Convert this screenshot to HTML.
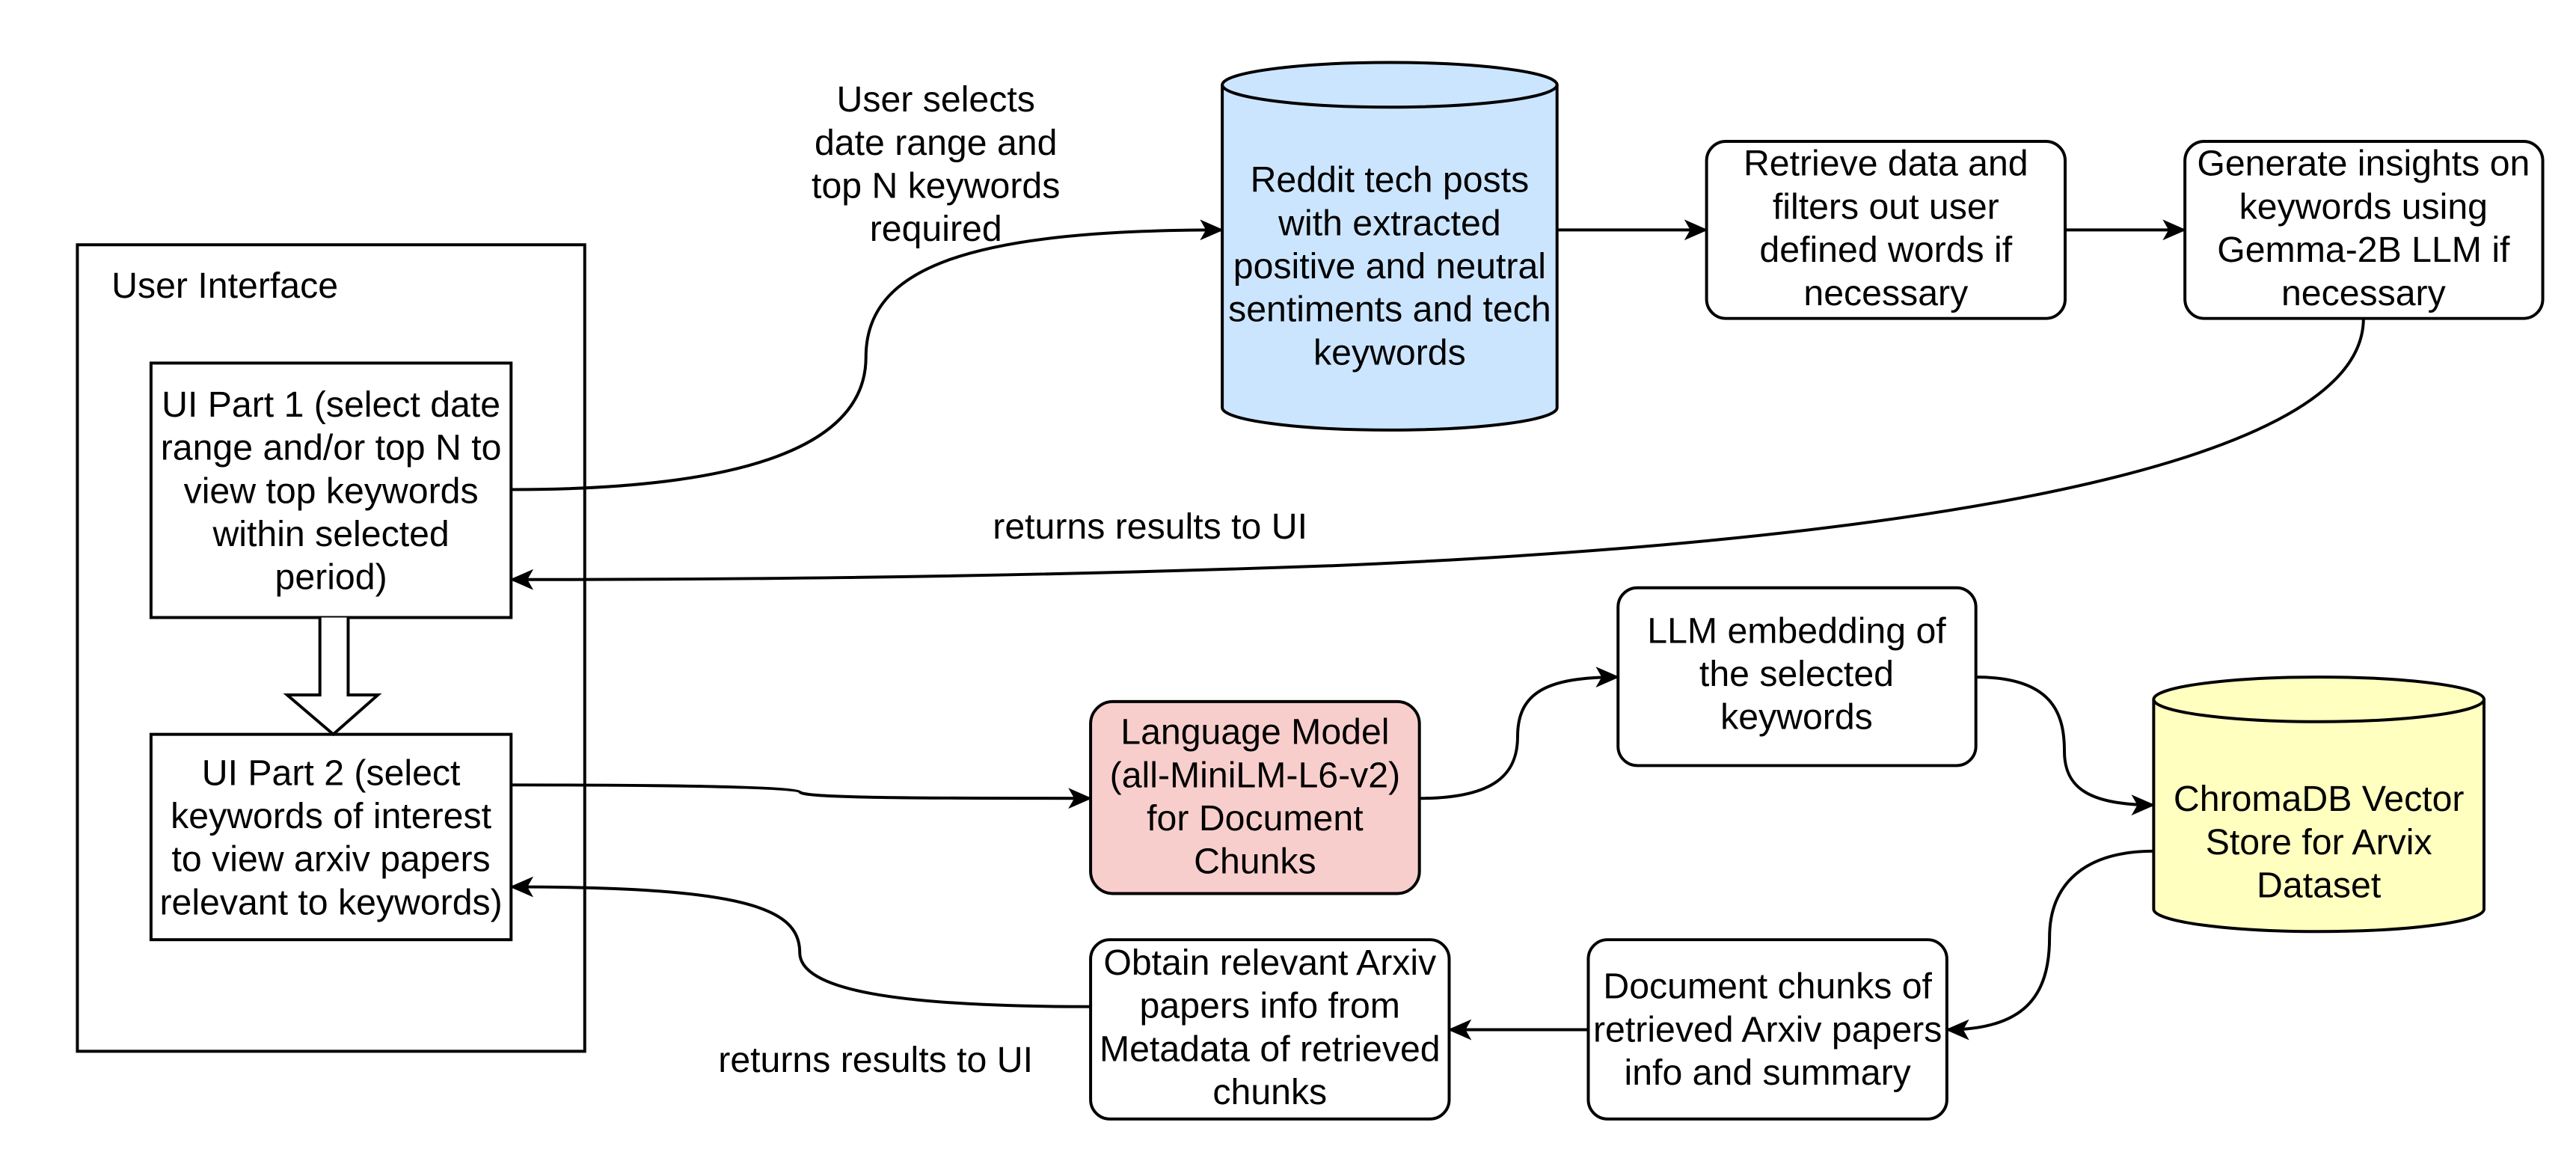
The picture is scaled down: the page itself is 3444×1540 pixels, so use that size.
<!DOCTYPE html>
<html><head><meta charset="utf-8"><style>
html,body{margin:0;padding:0;background:#fff;}
svg{display:block;}
text{font-family:"Liberation Sans",Helvetica,Arial,sans-serif;font-size:48.5px;fill:#000;text-anchor:middle;}
</style></head><body>
<svg width="3444" height="1540" viewBox="0 0 3444 1540" xmlns="http://www.w3.org/2000/svg">
<defs>
<marker id="a" markerWidth="40" markerHeight="40" refX="30" refY="16" orient="auto" markerUnits="userSpaceOnUse">
<path d="M0,2 L32,16 L0,30 L8,16 Z" fill="#000"/>
</marker>
</defs>
<g transform="scale(0.9946)">
<g fill="none" stroke="#000" stroke-width="4">
<rect x="104" y="329" width="682" height="1084" fill="#fff"/>
<rect x="203" y="488" width="484" height="342" fill="#fff"/>
<rect x="203" y="987" width="484" height="276" fill="#fff"/>
<path d="M430,830 L430,934 L386,934 L448,987 L508,934 L468,934 L468,830" fill="#fff"/>
<path d="M1643,114 L1643,548 A225,30 0 0 0 2093,548 L2093,114 A225,30 0 0 0 1643,114 Z" fill="#cce5ff"/>
<path d="M1643,114 A225,30 0 0 0 2093,114"/>
<rect x="2294" y="190" width="482" height="238" rx="26" fill="#fff"/>
<rect x="2937" y="190" width="481" height="238" rx="26" fill="#fff"/>
<rect x="1466" y="943" width="442" height="258" rx="30" fill="#f8cecc"/>
<rect x="2175" y="790" width="481" height="239" rx="26" fill="#fff"/>
<rect x="2135" y="1263" width="482" height="241" rx="26" fill="#fff"/>
<rect x="1466" y="1263" width="482" height="241" rx="26" fill="#fff"/>
<path d="M2895,940 L2895,1222 A222,30 0 0 0 3339,1222 L3339,940 A222,30 0 0 0 2895,940 Z" fill="#ffffc0"/>
<path d="M2895,940 A222,30 0 0 0 3339,940"/>
<path d="M687,658 C1000,658 1164,600 1164,480 C1164,360 1300,309 1643,309" marker-end="url(#a)"/>
<path d="M2093,309 L2294,309" marker-end="url(#a)"/>
<path d="M2776,309 L2937,309" marker-end="url(#a)"/>
<path d="M3177,428 C3177,640 2500,730 1800,760 C1300,778 900,779 687,779" marker-end="url(#a)"/>
<path d="M687,1055 C900,1055 1075,1058 1075,1064 C1075,1072 1200,1073 1466,1073" marker-end="url(#a)"/>
<path d="M1908,1073 C2010,1073 2040,1040 2040,990 C2040,930 2080,910 2175,910" marker-end="url(#a)"/>
<path d="M2656,910 C2760,910 2775,960 2775,1010 C2775,1060 2810,1082 2895,1082" marker-end="url(#a)"/>
<path d="M2895,1144 C2800,1144 2755,1190 2755,1260 C2755,1340 2720,1384 2617,1384" marker-end="url(#a)"/>
<path d="M2135,1384 L1948,1384" marker-end="url(#a)"/>
<path d="M1466,1353 C1200,1353 1075,1330 1075,1280 C1075,1220 1000,1192 687,1192" marker-end="url(#a)"/>
</g>
<text x="150" y="400" style="text-anchor:start">User Interface</text>
<text x="445" y="560">UI Part 1 (select date</text>
<text x="445" y="618">range and/or top N to</text>
<text x="445" y="676">view top keywords</text>
<text x="445" y="734">within selected</text>
<text x="445" y="792">period)</text>
<text x="445" y="1055">UI Part 2 (select</text>
<text x="445" y="1113">keywords of interest</text>
<text x="445" y="1171">to view arxiv papers</text>
<text x="445" y="1229">relevant to keywords)</text>
<text x="1258" y="150">User selects</text>
<text x="1258" y="208">date range and</text>
<text x="1258" y="266">top N keywords</text>
<text x="1258" y="324">required</text>
<text x="1868" y="258">Reddit tech posts</text>
<text x="1868" y="316">with extracted</text>
<text x="1868" y="374">positive and neutral</text>
<text x="1868" y="432">sentiments and tech</text>
<text x="1868" y="490">keywords</text>
<text x="2535" y="236">Retrieve data and</text>
<text x="2535" y="294">filters out user</text>
<text x="2535" y="352">defined words if</text>
<text x="2535" y="410">necessary</text>
<text x="3177" y="236">Generate insights on</text>
<text x="3177" y="294">keywords using</text>
<text x="3177" y="352">Gemma-2B LLM if</text>
<text x="3177" y="410">necessary</text>
<text x="1546" y="724">returns results to UI</text>
<text x="1687" y="1000">Language Model</text>
<text x="1687" y="1058">(all-MiniLM-L6-v2)</text>
<text x="1687" y="1116">for Document</text>
<text x="1687" y="1174">Chunks</text>
<text x="2415" y="864">LLM embedding of</text>
<text x="2415" y="922">the selected</text>
<text x="2415" y="980">keywords</text>
<text x="3117" y="1090">ChromaDB Vector</text>
<text x="3117" y="1148">Store for Arvix</text>
<text x="3117" y="1206">Dataset</text>
<text x="2376" y="1342">Document chunks of</text>
<text x="2376" y="1400">retrieved Arxiv papers</text>
<text x="2376" y="1458">info and summary</text>
<text x="1707" y="1310">Obtain relevant Arxiv</text>
<text x="1707" y="1368">papers info from</text>
<text x="1707" y="1426">Metadata of retrieved</text>
<text x="1707" y="1484">chunks</text>
<text x="1177" y="1441">returns results to UI</text>
</g>
</svg>
</body></html>
